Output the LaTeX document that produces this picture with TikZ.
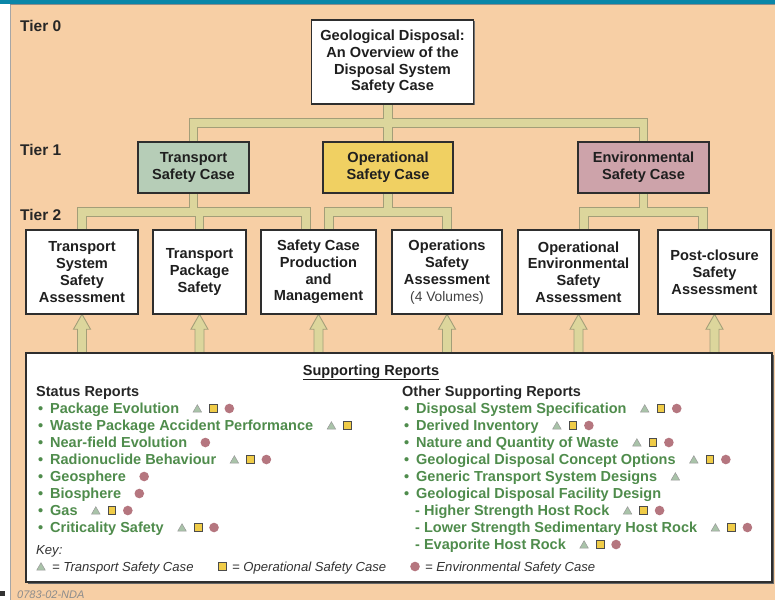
\documentclass[tikz,border=0pt]{standalone}
\usepackage{fontspec}
\setmainfont{Liberation Sans}
\usetikzlibrary{calc,shadows}
\definecolor{peach}{HTML}{F7CFA5}
\definecolor{topblue}{HTML}{0A86A8}
\definecolor{pipefill}{HTML}{DCD69C}
\definecolor{pipeedge}{HTML}{A39E78}
\definecolor{tgreen}{HTML}{B6CDB7}
\definecolor{oyellow}{HTML}{F0D062}
\definecolor{emauve}{HTML}{CDA3AA}
\definecolor{itemgreen}{HTML}{4F8C4C}
\definecolor{boxedge}{HTML}{2E2E2E}
\definecolor{symtri}{HTML}{A9C3A9}
\definecolor{symsq}{HTML}{F0CC48}
\definecolor{symci}{HTML}{B5767F}
\newcommand\bxfont{\bfseries\fontsize{14.6}{16.8}\selectfont}
\newcommand\itfont{\bfseries\fontsize{14.5}{17}\selectfont}
\newcommand\keyfont{\itshape\fontsize{13.1}{15}\selectfont}
\newcommand\pipepaths[1]{%
  \draw[#1] (top.south -| osc.north) -- (osc.north);
  \draw[#1] (tsc.north) -- (tsc.north |- bar0) -- (esc.north |- bar0) -- (esc.north);
  \draw[#1] (tsc.south) -- (tsc.south |- bar1);
  \draw[#1] (tssa.north) -- (tssa.north |- bar1) -- ([xshift=-12.5pt]scpm.north |- bar1) -- ([xshift=-12.5pt]scpm.north);
  \draw[#1] (tps.north) -- (tps.north |- bar1);
  \draw[#1] (osc.south) -- (osc.south |- bar1);
  \draw[#1] ([xshift=10.5pt]scpm.north) -- ([xshift=10.5pt]scpm.north |- bar1) -- (osa.north |- bar1) -- (osa.north);
  \draw[#1] (esc.south) -- (esc.south |- bar1);
  \draw[#1] ([xshift=5.5pt]oesa.north) -- ([xshift=5.5pt]oesa.north |- bar1) -- ([xshift=-11.5pt]pcsa.north |- bar1) -- ([xshift=-11.5pt]pcsa.north);
}
\newcommand\uparrowto[1]{%
  \filldraw[arr] (#1.south) -- ++(8.5,15) -- ++(-4,0) -- ([xshift=4.5pt]#1.south |- sr.north)
    -- ([xshift=-4.5pt]#1.south |- sr.north) -- ([xshift=-4.5pt,yshift=-15pt]#1.south) -- ++(-4,0) -- cycle;
}
% #1 name, #2 x, #3 baseline y, #4 text, #5 symbol list
\newcommand\repline[5]{%
  \node[itm] (#1) at (#2,#3) {#4};
  \foreach \s [count=\i] in {#5} {\pic at ($(#1.base east)+(2+16*\i,-4.5)$) {sym\s};}
}
\begin{document}
\begin{tikzpicture}[x=1pt,y=-1pt,
  box/.style={draw=boxedge, line width=1.3, fill=white, inner sep=0, align=center,
    font=\bxfont, text=black!88,
    drop shadow={shadow xshift=1.2pt, shadow yshift=-1.2pt, fill=black!55, opacity=1}},
  tier/.style={anchor=base west, inner sep=0, font=\bfseries\fontsize{15.5}{17}\selectfont, text=black!85},
  pipeout/.style={line width=9.5, pipeedge, line cap=butt, line join=miter},
  pipein/.style={line width=7.3, pipefill, line cap=butt, line join=miter},
  arr/.style={fill=pipefill, draw=pipeedge, line width=0.9, line join=miter},
  itm/.style={anchor=base west, inner sep=0, text=itemgreen, font=\itfont},
  bul/.style={anchor=base west, inner sep=0, text=itemgreen, font=\itfont},
  hd/.style={anchor=base west, inner sep=0, text=black!85, font=\itfont},
  keyt/.style={anchor=base west, inner sep=0, text=black!80, font=\keyfont},
  symT/.pic={\filldraw[fill=symtri, draw=black!40, line width=0.5] (-4.2,3.5) -- (4.2,3.5) -- (0,-3.8) -- cycle;},
  symS/.pic={\filldraw[fill=symsq, draw=black!70, line width=0.6] (-3.9,-3.9) rectangle (3.9,3.9);},
  symC/.pic={\fill[symci] (0,0) circle (4.8);}
]
\useasboundingbox (0,0) rectangle (775,600);
\fill[white] (0,0) rectangle (775,600);
\fill[peach] (10,4) rectangle (775,600);
\draw[black!35, line width=0.8] (10.4,4) -- (10.4,600);
\draw[black!45, line width=0.6] (10,4.3) -- (775,4.3);
\fill[topblue] (0,0) rectangle (775,4);
\fill[black!80] (0,591) rectangle (5,596);

\coordinate (bar0) at (0,123);
\coordinate (bar1) at (0,212);

% tier labels
\node[tier] (t0) at (20,31) {Tier 0};
\node[tier] (t1) at (20,155) {Tier 1};
\node[tier] (t2) at (20,220) {Tier 2};

\path
  (392.5,62) node[minimum width=162, minimum height=84, inner sep=0] (top) {}
  (193.5,167.5) node[minimum width=111, minimum height=51, inner sep=0] (tsc) {}
  (388,167.5) node[minimum width=130, minimum height=51, inner sep=0] (osc) {}
  (643.5,167.5) node[minimum width=131, minimum height=51, inner sep=0] (esc) {}
  (82,272) node[minimum width=112, minimum height=84, inner sep=0] (tssa) {}
  (199.5,272) node[minimum width=93, minimum height=84, inner sep=0] (tps) {}
  (318.5,272) node[minimum width=115, minimum height=84, inner sep=0] (scpm) {}
  (447,272) node[minimum width=110, minimum height=84, inner sep=0] (osa) {}
  (578.5,272) node[minimum width=121, minimum height=84, inner sep=0] (oesa) {}
  (714.5,272) node[minimum width=113, minimum height=84, inner sep=0] (pcsa) {}
  (399,467.5) node[minimum width=746, minimum height=229, inner sep=0] (sr) {};

\pipepaths{pipeout}
\pipepaths{pipein}
\foreach \n in {tssa,tps,scpm,osa,oesa,pcsa} {\uparrowto{\n}}

\node[box, minimum width=162, minimum height=84] (topb) at (top) {Geological Disposal:\\An Overview of the\\Disposal System\\Safety Case};
\node[box, fill=tgreen, minimum width=111, minimum height=51] (tscb) at (tsc) {Transport\\Safety Case};
\node[box, fill=oyellow, minimum width=130, minimum height=51] (oscb) at (osc) {Operational\\Safety Case};
\node[box, fill=emauve, minimum width=131, minimum height=51] (escb) at (esc) {Environmental\\Safety Case};
\node[box, minimum width=112, minimum height=84] (tssab) at (tssa) {Transport\\System\\Safety\\Assessment};
\node[box, minimum width=93, minimum height=84] (tpsb) at (tps) {Transport\\Package\\Safety};
\node[box, minimum width=115, minimum height=84] (scpmb) at (scpm) {Safety Case\\Production\\and\\Management};
\node[box, minimum width=110, minimum height=84] (osab) at (osa) {Operations\\Safety\\Assessment\\{\mdseries\fontsize{13.8}{16.8}\selectfont\color{black!75}(4 Volumes)}};
\node[box, minimum width=121, minimum height=84] (oesab) at (oesa) {Operational\\Environmental\\Safety\\Assessment};
\node[box, minimum width=113, minimum height=84] (pcsab) at (pcsa) {Post-closure\\Safety\\Assessment};
\node[box, line width=1.5, minimum width=746, minimum height=229,
  drop shadow={shadow xshift=1.6pt, shadow yshift=-1.6pt, fill=black!60, opacity=1}] (srb) at (sr) {};

% supporting reports
\node[anchor=base, inner sep=0, font=\itfont, text=black!88] (srh) at (371,375) {\underline{Supporting Reports}};
\node[hd] (lh) at (36,396) {Status Reports};
\foreach \k in {1,...,8} {\node[bul] (lb\k) at (38,396+17*\k) {•};}
\repline{l1}{50}{413}{Package Evolution}{T,S,C}
\repline{l2}{50}{430}{Waste Package Accident Performance}{T,S}
\repline{l3}{50}{447}{Near-field Evolution}{C}
\repline{l4}{50}{464}{Radionuclide Behaviour}{T,S,C}
\repline{l5}{50}{481}{Geosphere}{C}
\repline{l6}{50}{498}{Biosphere}{C}
\repline{l7}{50}{515}{Gas}{T,S,C}
\repline{l8}{50}{532}{Criticality Safety}{T,S,C}

\node[hd] (rh) at (402,396) {Other Supporting Reports};
\foreach \k in {1,...,6} {\node[bul] (rb\k) at (404,396+17*\k) {•};}
\repline{r1}{416}{413}{Disposal System Specification}{T,S,C}
\repline{r2}{416}{430}{Derived Inventory}{T,S,C}
\repline{r3}{416}{447}{Nature and Quantity of Waste}{T,S,C}
\repline{r4}{416}{464}{Geological Disposal Concept Options}{T,S,C}
\repline{r5}{416}{481}{Generic Transport System Designs}{T}
\repline{r6}{416}{498}{Geological Disposal Facility Design}{}
\repline{r7}{415}{515}{- Higher Strength Host Rock}{T,S,C}
\repline{r8}{415}{532}{- Lower Strength Sedimentary Host Rock}{T,S,C}
\repline{r9}{415}{549}{- Evaporite Host Rock}{T,S,C}

% key
\node[keyt] (key) at (36,554) {Key:};
\pic at (41,566.5) {symT};
\node[keyt] (k1) at (52,571) {= Transport Safety Case};
\pic at (222,566.5) {symS};
\node[keyt] (k2) at (232,571) {= Operational Safety Case};
\pic at (415,566.5) {symC};
\node[keyt] (k3) at (425,571) {= Environmental Safety Case};

\node[anchor=base west, inner sep=0, text=black!45, font=\itshape\fontsize{11}{13}\selectfont] (ft) at (17,598) {0783-02-NDA};
\end{tikzpicture}
\end{document}
